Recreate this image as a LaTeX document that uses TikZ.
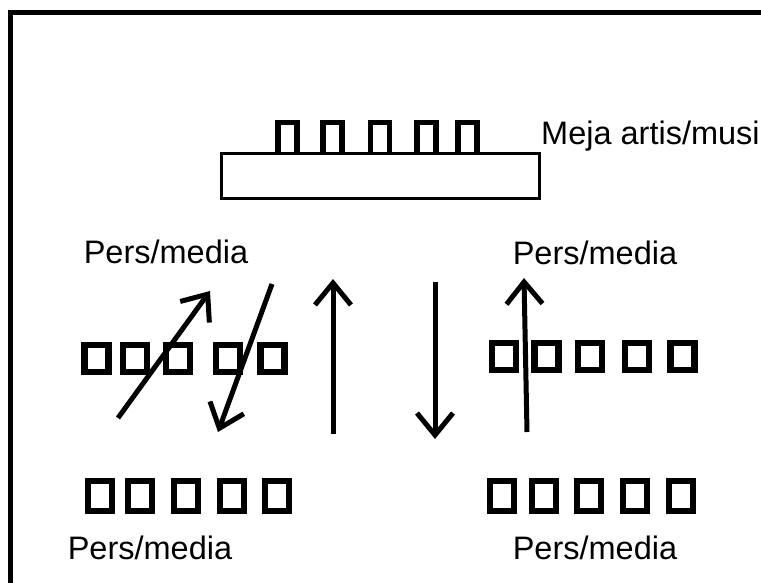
\documentclass[tikz,border=0pt]{standalone}
\usepackage{fontspec}
\setmainfont{Liberation Sans}
\usetikzlibrary{arrows.meta}
\begin{document}
\begin{tikzpicture}[x=1pt,y=-1pt,
 seat/.style={draw, line width=6.5pt, minimum width=24pt, minimum height=27pt, inner sep=0pt},
 seattall/.style={seat, minimum height=30pt},
 chair/.style={minimum width=19pt, minimum height=29pt, inner sep=0pt},
 chairline/.style={line width=5.5pt, line join=miter},
 lbl/.style={font=\fontsize{32.5}{38}\selectfont, inner sep=0pt},
 arr/.style={line width=5pt, -{Straight Barb[length=22pt,width=36pt,line width=5pt]}}]
\useasboundingbox (0,0) rectangle (761,583);
\begin{scope}
\clip (0,0) rectangle (761,583);
\draw[line width=5pt] (10,700) -- (10,13) -- (800,13);
\end{scope}
% stage table
\node[draw, line width=3.5pt, minimum width=318pt, minimum height=45pt, inner sep=0pt] (table) at (380.5,176) {};
\foreach \x [count=\i] in {287.5,332.5,380,426.5,467.5}{
  \node[chair] (c\i) at (\x,137) {};
  \draw[chairline] (c\i.south west) -- (c\i.north west) -- (c\i.north east) -- (c\i.south east);
}
\node[lbl, anchor=west] (meja) at (541,136) {Meja artis/musi};
% labels
\node[lbl] (p1) at (166,252) {Pers/media};
\node[lbl] (p2) at (595,253) {Pers/media};
\node[lbl] (p3) at (150,548) {Pers/media};
\node[lbl] (p4) at (595,548) {Pers/media};
% seat rows
\foreach \x [count=\i] in {96.5,135,178,228,272.5}{\node[seat] (ml\i) at (\x,358.5) {};}
\foreach \x [count=\i] in {504,546.5,590,637,682.5}{\node[seat] (mr\i) at (\x,356.5) {};}
\foreach \x [count=\i] in {100,140,186,232,277}{\node[seattall] (bl\i) at (\x,496) {};}
\foreach \x [count=\i] in {502,544,589,635,681}{\node[seattall] (br\i) at (\x,496) {};}
% arrows
\coordinate (a1s) at (118,418); \coordinate (a1e) at (210,291);
\coordinate (a2s) at (272,284); \coordinate (a2e) at (218,432);
\coordinate (a3s) at (333,434); \coordinate (a3e) at (333,279);
\coordinate (a4s) at (435,282); \coordinate (a4e) at (435,439);
\coordinate (a5s) at (527,432); \coordinate (a5e) at (524,278);
\draw[arr] (a1s) -- (a1e);
\draw[arr] (a2s) -- (a2e);
\draw[arr] (a3s) -- (a3e);
\draw[arr] (a4s) -- (a4e);
\draw[arr] (a5s) -- (a5e);
\end{tikzpicture}
\end{document}
